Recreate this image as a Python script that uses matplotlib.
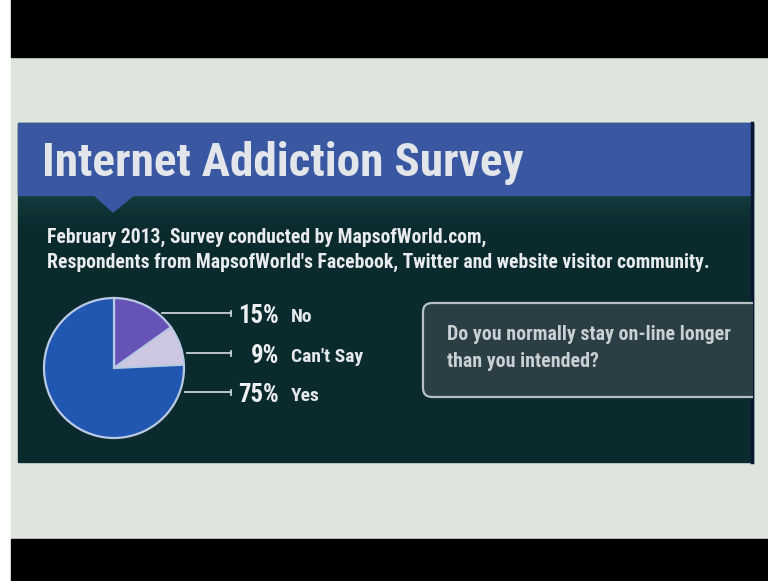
import matplotlib
matplotlib.use("Agg")
import numpy as np
from matplotlib import pyplot as plt
from matplotlib import font_manager
from matplotlib.patches import Rectangle, Polygon, FancyBboxPatch

# Survey answers (percent of respondents)
answers = ["No", "Can't Say", "Yes"]
shares = [15, 9, 75]
share_labels = ["15%", "9%", "75%"]

title = "Internet Addiction Survey"
subtitle = [
    "February 2013, Survey conducted by MapsofWorld.com,",
    "Respondents from MapsofWorld's Facebook, Twitter and website visitor community.",
]
question = ["Do you normally stay on-line longer", "than you intended?"]

# canvas size in pixels; layout below is given in pixels from the top-left
W, H = 768, 581

# pick a narrow bold face if one is installed
installed = {f.name for f in font_manager.fontManager.ttflist}
FONT = next(
    (n for n in ["Liberation Sans Narrow", "Roboto Condensed", "DejaVu Sans"] if n in installed),
    "DejaVu Sans",
)
plt.rcParams["font.family"] = [FONT, "DejaVu Sans"]
plt.rcParams["font.stretch"] = "condensed"


def fy(y):
    """Flip a top-down pixel row into axes coordinates."""
    return H - y


fig = plt.figure(figsize=(W / 100, H / 100), dpi=100)
fig.patch.set_facecolor("white")
ax = fig.add_axes([0, 0, 1, 1])

# --- backdrop: light slide with black letterbox bands -----------------------
ax.add_patch(Rectangle((11, fy(539)), W - 11, 539 - 57, color="#dde5dc", zorder=0))
ax.add_patch(Rectangle((11, fy(57)), W - 11, 57, color="black", zorder=0))
ax.add_patch(Rectangle((11, 0), W - 11, H - 539, color="black", zorder=0))

# --- dark panel with blue header --------------------------------------------
px0, px1, py0, py1 = 18, 753, 123, 462
panel = Rectangle((px0, fy(py1)), px1 - px0, py1 - py0, color="#0b2a2e", zorder=1)
ax.add_patch(panel)

# soft teal glow just under the header
glow = np.linspace(1, 0, 64) ** 1.5
glow_rgba = np.zeros((64, 1, 4))
glow_rgba[..., 0] = 0.10
glow_rgba[..., 1] = 0.30
glow_rgba[..., 2] = 0.30
glow_rgba[:, 0, 3] = glow * 0.55
ax.imshow(glow_rgba, extent=(px0, px1, fy(235), fy(195)), aspect="auto",
          interpolation="bilinear", zorder=1.5)

ax.add_patch(Rectangle((px0, fy(195)), px1 - px0, 195 - py0, color="#3a58a2", zorder=2))
ax.add_patch(Polygon([(93, fy(194)), (135, fy(194)), (113, fy(212))],
                     closed=True, color="#3a58a2", zorder=2))
ax.plot([px1 - 1, px1 - 1], [fy(py1), fy(py0)], color="#0a1733", lw=2.5, zorder=3)

ax.text(42, fy(176), title, color="#e2e6ea", fontsize=34, fontweight="bold",
        ha="left", va="baseline", zorder=4)
for i, line in enumerate(subtitle):
    ax.text(47, fy(243 + 25 * i), line, color="#e8ecef", fontsize=14.1,
            fontweight="bold", ha="left", va="baseline", zorder=4)

# --- pie --------------------------------------------------------------------
cx, cy, r = 114, 368, 70
ax.pie(
    shares,
    colors=["#6553b5", "#cdc7e2", "#2157b0"],
    startangle=90,
    counterclock=False,
    center=(cx, fy(cy)),
    radius=r,
    wedgeprops=dict(edgecolor="#b9c9e3", linewidth=1.6, zorder=5),
)

# leader lines and labels
label_rows = [313, 353, 392]
line_end = 231
for row, pct, name in zip(label_rows, share_labels, answers):
    edge_x = cx + np.sqrt(r ** 2 - (row - cy) ** 2)
    ax.plot([edge_x + 5, line_end], [fy(row), fy(row)], color="#c8d0d8", lw=1.3, zorder=5)
    ax.plot([line_end, line_end], [fy(row - 2.5), fy(row + 2.5)], color="#c8d0d8",
            lw=1.3, zorder=5)
    ax.text(279, fy(row + 10), pct, color="#eef0f2", fontsize=17.8, fontweight="bold",
            ha="right", va="baseline", zorder=6)
    ax.text(291, fy(row + 9), name, color="#e4e8ec", fontsize=14, fontweight="bold",
            ha="left", va="baseline", zorder=6)

# --- question box -----------------------------------------------------------
box = FancyBboxPatch((423, fy(397)), 360, 397 - 303,
                     boxstyle="round,pad=0,rounding_size=9",
                     facecolor="#2b3d45", edgecolor="#b4c0c4", lw=1.6, zorder=5)
ax.add_patch(box)
box.set_clip_path(panel)
for i, line in enumerate(question):
    ax.text(447, fy(340 + 27 * i), line, color="#c8d0d4", fontsize=14.3,
            fontweight="bold", ha="left", va="baseline", zorder=6)

ax.set_xlim(0, W)
ax.set_ylim(0, H)
ax.set_aspect("auto")
ax.axis("off")

fig.savefig("out.png", dpi=100, facecolor=fig.get_facecolor())
